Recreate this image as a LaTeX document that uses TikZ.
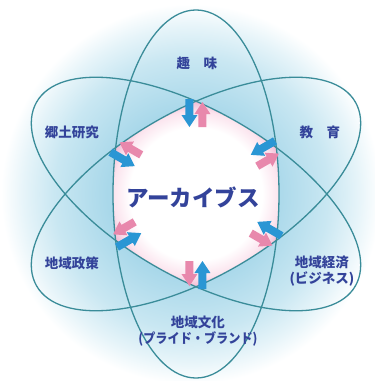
\documentclass[tikz,border=0pt]{standalone}
\usepackage{fontspec}
\setmainfont{Noto Sans CJK JP}
\definecolor{bgA}{HTML}{A9D8EA}
\definecolor{bgB}{HTML}{C9E7F2}
\definecolor{bgC}{HTML}{E6F4F9}
\definecolor{pkA}{HTML}{FBE4EE}
\definecolor{pkB}{HTML}{F2BDD6}
\definecolor{ellc}{HTML}{3A8C99}
\definecolor{arrblue}{HTML}{2A96D4}
\definecolor{arrpink}{HTML}{E888AC}
\definecolor{txtc}{HTML}{33439A}
\pgfdeclareradialshading{bgshade}{\pgfpoint{0bp}{0bp}}{color(0bp)=(bgA); color(11bp)=(bgA); color(18bp)=(bgB); color(22bp)=(bgC); color(25bp)=(white); color(50bp)=(white)}
\pgfdeclareradialshading{hexshade}{\pgfpoint{0bp}{0bp}}{color(0bp)=(white); color(18bp)=(white); color(22.5bp)=(pkA); color(25bp)=(pkB); color(50bp)=(pkB)}
\tikzset{
  ell/.style={draw=ellc, line width=1.3pt},
  lbl/.style={text=txtc, font=\bfseries\fontsize{13.5}{16}\selectfont, align=center, inner sep=0pt},
  biglbl/.style={text=txtc, font=\bfseries\fontsize{22.5}{26}\selectfont, inner sep=0pt},
  inarrow/.style={fill=arrblue},
  outarrow/.style={fill=arrpink}
}
\begin{document}
\begin{tikzpicture}[x=1pt,y=1pt]
\useasboundingbox (-196,-187) rectangle (179,194);
\fill[white] (-196,-187) rectangle (179,194);
% background glow
\shade[shading=bgshade] (-5,0) circle (190);
% central hexagon glow
\begin{scope}
  \clip (0,0) ellipse (83 and 184);
  \clip[rotate=60] (0,0) ellipse (83 and 184);
  \clip[rotate=-60] (0,0) ellipse (83 and 184);
  \shade[shading=hexshade] (0,0) circle (92);
\end{scope}
% ellipses
\draw[ell] (0,0) ellipse (83 and 184);
\draw[ell, rotate=60] (0,0) ellipse (83 and 184);
\draw[ell, rotate=-60] (0,0) ellipse (83 and 184);
% arrows
\foreach \a in {90,30,-30,-90,-150,150} {
  \begin{scope}[rotate=\a]
    \fill[inarrow] (95,10.5) -- (79,10.5) -- (79,14.5) -- (67,6.5) -- (79,-1.5) -- (79,2.5) -- (95,2.5) -- cycle;
    \fill[outarrow] (67,-2.5) -- (80,-2.5) -- (80,1.5) -- (92,-6.5) -- (80,-14.5) -- (80,-10.5) -- (67,-10.5) -- cycle;
  \end{scope}
}
% labels
\node[biglbl] (center) at (-3,-3) {アーカイブス};
\node[lbl] (hobby) at (1,131) {趣　味};
\node[lbl] (edu) at (124,62) {教　育};
\node[lbl] (local) at (-124,62) {郷土研究};
\node[lbl] (policy) at (-124,-69) {地域政策};
\node[lbl] (econ) at (126,-77) {地域経済\\(ビジネス)};
\node[lbl] (culture) at (2,-137) {地域文化\\\scalebox{0.9}[1]{(プライド・ブランド)}};
\end{tikzpicture}
\end{document}
